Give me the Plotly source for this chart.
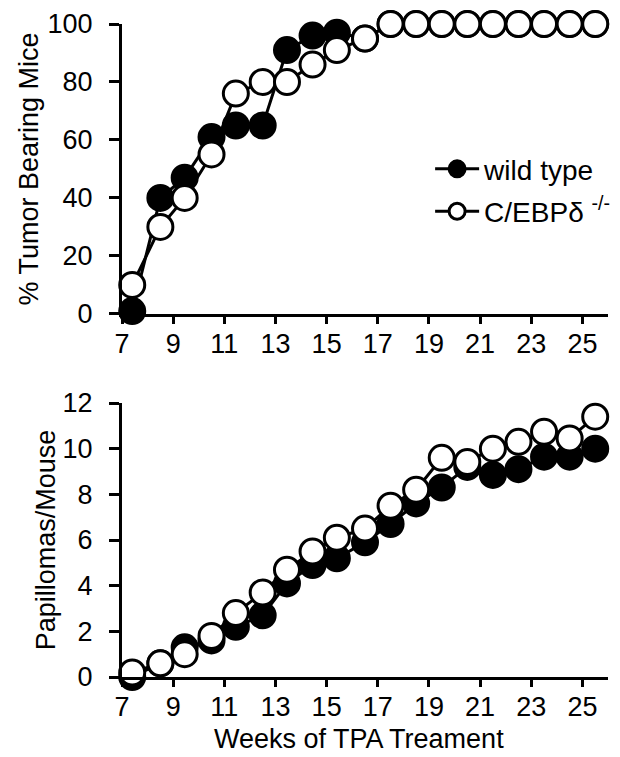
import plotly.graph_objects as go

weeks = [7.4, 8.5, 9.45, 10.5, 11.45, 12.5, 13.45, 14.45, 15.4, 16.5, 17.5, 18.5, 19.5, 20.5, 21.5, 22.5, 23.5, 24.5, 25.5]
tumor_wt = [1, 40, 47, 61, 65, 65, 91, 96, 97, 95, 100, 100, 100, 100, 100, 100, 100, 100, 100]
tumor_ko = [10, 30, 40, 55, 76, 80, 80, 86, 91, 95, 100, 100, 100, 100, 100, 100, 100, 100, 100]
pap_wt = [0, 0.6, 1.3, 1.6, 2.2, 2.7, 4.1, 4.9, 5.2, 5.9, 6.7, 7.6, 8.3, 9.2, 8.85, 9.1, 9.65, 9.65, 10.0]
pap_ko = [0.2, 0.6, 1.0, 1.8, 2.8, 3.7, 4.7, 5.5, 6.1, 6.5, 7.5, 8.2, 9.6, 9.42, 10.0, 10.3, 10.74, 10.45, 11.4]

x_ticks = [7, 9, 11, 13, 15, 17, 19, 21, 23, 25]
top_ticks = [0, 20, 40, 60, 80, 100]
bot_ticks = [0, 2, 4, 6, 8, 10, 12]
x_title = "Weeks of TPA Treament"

FONT = "Liberation Sans, Arial, sans-serif"
MS = 25
FS = 27

# The page body has an 8 px default margin, so the figure is 8 px smaller
# than the 620x757 window and every margin is measured from (8, 8).
W, H = 612, 749

fig = go.Figure()

def add(x, y, filled, name, xa, ya, show, grp):
    fig.add_trace(go.Scatter(
        x=x, y=y, mode="lines+markers", name=name,
        xaxis=xa, yaxis=ya, showlegend=show, cliponaxis=False, legendgroup=grp,
        line=dict(color="black", width=3),
        marker=dict(size=MS, symbol="circle",
                    color="black" if filled else "white",
                    line=dict(color="black", width=3)),
    ))

add(weeks, tumor_wt, True, "wild type", "x", "y", True, "wt")
add(weeks, tumor_ko, False, "C/EBPδ <sup>-/-</sup>", "x", "y", True, "ko")
add(weeks, pap_wt, True, "wild type", "x2", "y2", False, "wt")
add(weeks, pap_ko, False, "C/EBPδ -/-", "x2", "y2", False, "ko")

axis_common = dict(showline=True, linecolor="black", linewidth=3, ticks="outside",
                   tickwidth=3, tickcolor="black", showgrid=False, zeroline=False,
                   tickfont=dict(family=FONT, size=FS, color="black"), automargin=False)

fig.update_layout(
    width=W, height=H,
    margin=dict(l=114, r=5, t=16, b=80),
    paper_bgcolor="white", plot_bgcolor="white",
    font=dict(family=FONT, color="black"),
    xaxis=dict(domain=[0, 1], range=[7, 26], anchor="y", tickvals=x_ticks, ticklen=7,
               ticklabelstandoff=-3, **axis_common),
    yaxis=dict(domain=[0.556, 1.0], range=[0, 100], anchor="x", tickvals=top_ticks, ticklen=10,
               ticklabelstandoff=11,
               title=dict(text="% Tumor Bearing Mice", font=dict(family=FONT, size=FS), standoff=2),
               **axis_common),
    xaxis2=dict(domain=[0, 1], range=[7, 26], anchor="y2", tickvals=x_ticks, ticklen=7,
                ticklabelstandoff=-3, **axis_common),
    yaxis2=dict(domain=[0, 0.4196], range=[0, 12], anchor="x2", tickvals=bot_ticks, ticklen=10,
                ticklabelstandoff=11,
                title=dict(text="Papillomas/Mouse", font=dict(family=FONT, size=FS), standoff=0),
                **axis_common),
    legend=dict(x=0.634, y=0.816, xanchor="left", yanchor="top",
                font=dict(family=FONT, size=28, color="black"),
                bgcolor="rgba(0,0,0,0)", tracegroupgap=3, itemwidth=44),
    annotations=[dict(text=x_title, xref="x2 domain", yref="paper", x=0.488, y=-0.095,
                      xanchor="center", yanchor="middle", showarrow=False,
                      font=dict(family=FONT, size=FS, color="black"))],
)

fig.write_html("out.html")
